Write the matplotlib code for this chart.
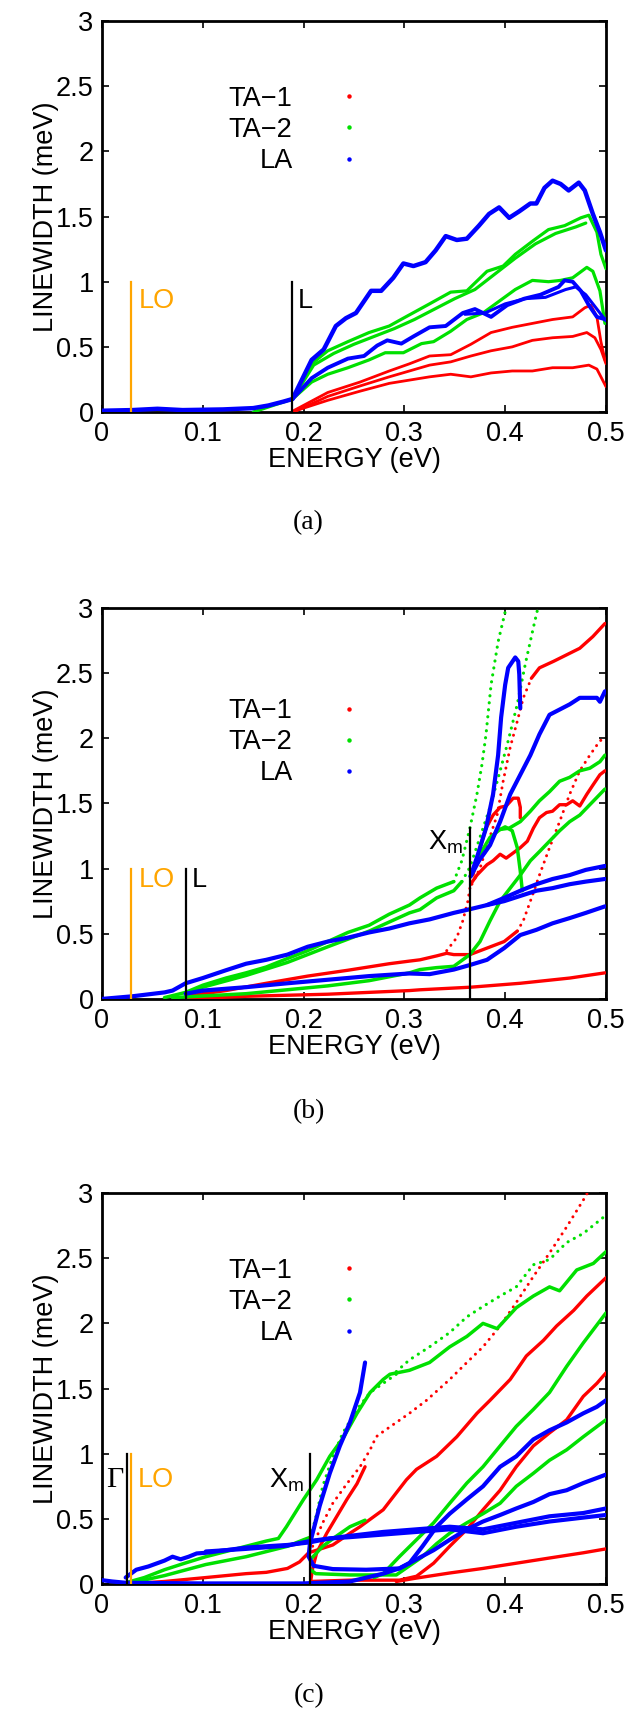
import matplotlib
matplotlib.use('Agg')
import matplotlib.pyplot as plt
from matplotlib.lines import Line2D
from matplotlib.ticker import FormatStrFormatter

plt.rcParams['font.family'] = ['Liberation Sans', 'DejaVu Sans']
plt.rcParams['mathtext.fontset'] = 'custom'
plt.rcParams['mathtext.rm'] = 'Liberation Sans'

# ---------------- panel (a) ----------------
a_la1_e = [0, 0.03, 0.055, 0.08, 0.12, 0.15, 0.165, 0.18, 0.189, 0.208, 0.22, 0.232, 0.242, 0.252, 0.267,
           0.277, 0.289, 0.299, 0.309, 0.321, 0.331, 0.341, 0.352, 0.362, 0.374, 0.384, 0.394, 0.404, 0.414,
           0.425, 0.431, 0.439, 0.447, 0.455, 0.463, 0.473, 0.479, 0.487, 0.494, 0.5]
a_la1_w = [0.01, 0.015, 0.025, 0.015, 0.02, 0.03, 0.05, 0.08, 0.1, 0.40, 0.48, 0.66, 0.72, 0.76, 0.93,
           0.93, 1.03, 1.14, 1.12, 1.15, 1.24, 1.35, 1.32, 1.33, 1.43, 1.52, 1.57, 1.49, 1.54,
           1.60, 1.60, 1.72, 1.775, 1.75, 1.70, 1.76, 1.70, 1.52, 1.38, 1.24]
a_la2_e = [0.189, 0.208, 0.224, 0.244, 0.26, 0.273, 0.283, 0.297, 0.309, 0.325, 0.341, 0.358, 0.37, 0.386,
           0.402, 0.419, 0.435, 0.453, 0.459, 0.467, 0.475, 0.483, 0.491, 0.5]
a_la2_w = [0.1, 0.26, 0.34, 0.41, 0.43, 0.51, 0.55, 0.525, 0.58, 0.65, 0.66, 0.76, 0.79, 0.73,
           0.82, 0.87, 0.90, 0.96, 1.01, 1.0, 0.93, 0.82, 0.73, 0.71]
a_la3_e = [0.36, 0.38, 0.40, 0.42, 0.44, 0.46, 0.47, 0.48, 0.49, 0.5]
a_la3_w = [0.75, 0.76, 0.83, 0.87, 0.88, 0.94, 0.96, 0.90, 0.80, 0.70]
a_ta2_1_e = [0.189, 0.208, 0.224, 0.244, 0.265, 0.285, 0.299, 0.325, 0.346, 0.362, 0.382, 0.398, 0.41,
             0.427, 0.443, 0.459, 0.475, 0.483, 0.491, 0.495, 0.5]
a_ta2_1_w = [0.1, 0.37, 0.47, 0.54, 0.61, 0.66, 0.72, 0.83, 0.92, 0.93, 1.08, 1.12, 1.21,
             1.31, 1.40, 1.43, 1.49, 1.51, 1.38, 1.21, 1.10]
a_ta2_2_e = [0.189, 0.21, 0.23, 0.25, 0.27, 0.29, 0.31, 0.33, 0.35, 0.37, 0.39, 0.41, 0.43, 0.45, 0.47, 0.48]
a_ta2_2_w = [0.1, 0.36, 0.45, 0.52, 0.58, 0.64, 0.71, 0.79, 0.87, 0.94, 1.06, 1.18, 1.29, 1.37, 1.42, 1.45]
a_ta2_3_e = [0.15, 0.189, 0.208, 0.224, 0.244, 0.265, 0.281, 0.299, 0.317, 0.329, 0.346, 0.362, 0.378, 0.394,
             0.41, 0.427, 0.443, 0.455, 0.467, 0.481, 0.487, 0.494, 0.499]
a_ta2_3_w = [0.0, 0.1, 0.23, 0.29, 0.34, 0.40, 0.455, 0.455, 0.525, 0.54, 0.62, 0.71, 0.76, 0.85,
             0.94, 1.01, 1.0, 1.01, 1.03, 1.11, 1.08, 0.93, 0.68]
a_ta1_1_e = [0.19, 0.224, 0.256, 0.285, 0.305, 0.325, 0.346, 0.366, 0.386, 0.407, 0.427, 0.447, 0.467,
             0.479, 0.485, 0.491, 0.495, 0.499]
a_ta1_1_w = [0.01, 0.15, 0.23, 0.315, 0.37, 0.43, 0.44, 0.52, 0.61, 0.65, 0.68, 0.71, 0.73,
             0.80, 0.82, 0.73, 0.54, 0.40]
a_ta1_2_e = [0.19, 0.224, 0.256, 0.285, 0.305, 0.325, 0.346, 0.366, 0.386, 0.407, 0.427, 0.447, 0.467,
             0.481, 0.489, 0.495, 0.5]
a_ta1_2_w = [0.0, 0.12, 0.20, 0.27, 0.315, 0.36, 0.385, 0.43, 0.47, 0.50, 0.55, 0.57, 0.58,
             0.61, 0.57, 0.48, 0.37]
a_ta1_3_e = [0.192, 0.224, 0.256, 0.285, 0.305, 0.325, 0.346, 0.366, 0.386, 0.407, 0.427, 0.447, 0.467,
             0.483, 0.491, 0.5]
a_ta1_3_w = [0.01, 0.09, 0.16, 0.22, 0.245, 0.27, 0.29, 0.27, 0.30, 0.315, 0.315, 0.34, 0.34,
             0.36, 0.33, 0.195]

# ---------------- panel (b) ----------------
b_la1_e = [0, 0.03, 0.062, 0.07, 0.083, 0.1, 0.123, 0.143, 0.163, 0.184, 0.204, 0.224, 0.244, 0.265, 0.285,
           0.305, 0.325, 0.349, 0.366, 0.382, 0.399, 0.415, 0.431, 0.447, 0.464, 0.48, 0.499]
b_la1_w = [0, 0.02, 0.05, 0.064, 0.12, 0.16, 0.22, 0.27, 0.30, 0.34, 0.40, 0.44, 0.47, 0.51, 0.54,
           0.58, 0.61, 0.66, 0.69, 0.72, 0.775, 0.83, 0.88, 0.92, 0.95, 0.99, 1.02]
b_la2_e = [0.382, 0.399, 0.415, 0.431, 0.447, 0.464, 0.48, 0.499]
b_la2_w = [0.72, 0.75, 0.79, 0.83, 0.85, 0.88, 0.90, 0.92]
b_la3_e = [0.083, 0.1, 0.143, 0.184, 0.224, 0.265, 0.305, 0.325, 0.349, 0.365, 0.382, 0.399, 0.415,
           0.431, 0.447, 0.464, 0.48, 0.499]
b_la3_w = [0.04, 0.064, 0.09, 0.12, 0.147, 0.175, 0.195, 0.19, 0.225, 0.26, 0.30, 0.39, 0.49,
           0.53, 0.58, 0.62, 0.66, 0.71]
b_la4_e = [0.3657, 0.373, 0.381, 0.388, 0.393, 0.396, 0.400, 0.403, 0.410, 0.413, 0.414, 0.415]
b_la4_w = [0.94, 1.11, 1.31, 1.57, 1.87, 2.16, 2.41, 2.54, 2.62, 2.59, 2.49, 2.23]
b_la5_e = [0.3657, 0.374, 0.385, 0.395, 0.405, 0.415, 0.425, 0.434, 0.444, 0.454, 0.464, 0.474, 0.484,
           0.491, 0.494, 0.499]
b_la5_w = [0.94, 1.06, 1.18, 1.36, 1.57, 1.72, 1.87, 2.03, 2.18, 2.22, 2.26, 2.31, 2.31,
           2.31, 2.28, 2.36]
b_ta2_1_e = [0.062, 0.083, 0.1, 0.123, 0.143, 0.163, 0.184, 0.204, 0.224, 0.244, 0.265, 0.285, 0.305,
             0.3155, 0.332, 0.349]
b_ta2_1_w = [0.01, 0.05, 0.105, 0.16, 0.20, 0.245, 0.31, 0.37, 0.44, 0.51, 0.565, 0.65, 0.72,
             0.775, 0.85, 0.90]
b_ta2_1d_e = [0.349, 0.357, 0.365, 0.372, 0.377, 0.381, 0.386, 0.393, 0.400, 0.402]
b_ta2_1d_w = [0.90, 1.06, 1.31, 1.57, 1.80, 2.03, 2.41, 2.74, 2.97, 3.05]
b_ta2_2_e = [0.083, 0.1, 0.143, 0.184, 0.224, 0.265, 0.305, 0.3155, 0.332, 0.349, 0.357]
b_ta2_2_w = [0.04, 0.09, 0.18, 0.28, 0.40, 0.52, 0.66, 0.685, 0.775, 0.83, 0.90]
b_ta2_2d_e = [0.357, 0.365, 0.375, 0.385, 0.395, 0.403, 0.412, 0.420, 0.428, 0.434]
b_ta2_2d_w = [0.90, 1.01, 1.24, 1.47, 1.75, 1.98, 2.26, 2.57, 2.85, 3.05]
b_ta2_3_e = [0.366, 0.375, 0.385, 0.395, 0.4, 0.407, 0.412, 0.415, 0.417]
b_ta2_3_w = [0.95, 1.11, 1.24, 1.30, 1.32, 1.29, 1.16, 0.98, 0.83]
b_ta2_4_e = [0.395, 0.404, 0.415, 0.425, 0.434, 0.444, 0.454, 0.464, 0.474, 0.484, 0.494, 0.499]
b_ta2_4_w = [1.30, 1.31, 1.36, 1.44, 1.52, 1.59, 1.67, 1.70, 1.75, 1.77, 1.82, 1.87]
b_ta2_5_e = [0.07, 0.143, 0.224, 0.265, 0.305, 0.3155, 0.332, 0.349, 0.365, 0.375, 0.385, 0.395, 0.405,
             0.415, 0.425, 0.434, 0.444, 0.454, 0.464, 0.474, 0.484, 0.494, 0.499]
b_ta2_5_w = [0.01, 0.04, 0.10, 0.14, 0.20, 0.225, 0.24, 0.25, 0.34, 0.44, 0.60, 0.75, 0.85,
             0.95, 1.06, 1.13, 1.21, 1.29, 1.36, 1.41, 1.49, 1.57, 1.61]
b_ta1_1_e = [0.083, 0.123, 0.163, 0.204, 0.244, 0.285, 0.305, 0.3155, 0.332, 0.342]
b_ta1_1_w = [0.02, 0.064, 0.12, 0.175, 0.22, 0.27, 0.29, 0.30, 0.33, 0.35]
b_ta1_1d_e = [0.342, 0.352, 0.358, 0.363, 0.365]
b_ta1_1d_w = [0.37, 0.47, 0.60, 0.75, 0.85]
b_ta1_2_e = [0.342, 0.349, 0.365, 0.382, 0.399, 0.412]
b_ta1_2_w = [0.35, 0.34, 0.34, 0.39, 0.44, 0.52]
b_ta1_2d_e = [0.412, 0.418, 0.425, 0.434, 0.444, 0.454, 0.464, 0.474, 0.484, 0.494, 0.499]
b_ta1_2d_w = [0.52, 0.60, 0.75, 0.95, 1.16, 1.36, 1.57, 1.75, 1.87, 1.98, 2.0]
b_ta1_3d_e = [0.367, 0.375, 0.383, 0.392, 0.398, 0.405, 0.412, 0.418, 0.426]
b_ta1_3d_w = [0.88, 1.0, 1.2, 1.41, 1.67, 1.93, 2.13, 2.31, 2.46]
b_ta1_3_e = [0.426, 0.434, 0.448, 0.461, 0.474, 0.487, 0.499]
b_ta1_3_w = [2.46, 2.54, 2.59, 2.64, 2.69, 2.78, 2.88]
b_ta1_4_e = [0.3657, 0.372, 0.382, 0.388, 0.395, 0.401, 0.408, 0.415, 0.422, 0.428, 0.434, 0.441, 0.447,
             0.454, 0.461, 0.467, 0.474, 0.481, 0.487, 0.494, 0.499]
b_ta1_4_w = [0.88, 0.95, 1.03, 1.06, 1.11, 1.08, 1.12, 1.16, 1.21, 1.31, 1.39, 1.43, 1.44,
             1.49, 1.49, 1.52, 1.48, 1.57, 1.64, 1.72, 1.75]
b_ta1_5_e = [0.368, 0.375, 0.381, 0.388, 0.395, 0.401, 0.408, 0.413, 0.415, 0.415]
b_ta1_5_w = [0.95, 1.16, 1.31, 1.41, 1.47, 1.48, 1.54, 1.54, 1.47, 1.39]
b_ta1_6_e = [0.083, 0.143, 0.224, 0.305, 0.3155, 0.366, 0.415, 0.464, 0.499]
b_ta1_6_w = [0.0, 0.02, 0.036, 0.064, 0.07, 0.09, 0.12, 0.16, 0.20]

# ---------------- panel (c) ----------------
c_la1_e = [0.0235, 0.034, 0.046, 0.062, 0.07, 0.078, 0.086, 0.094, 0.103, 0.123, 0.143, 0.163, 0.184,
           0.206, 0.226, 0.246, 0.279, 0.312, 0.345, 0.378, 0.411, 0.444, 0.4775, 0.5]
c_la1_w = [0.05, 0.11, 0.135, 0.18, 0.21, 0.19, 0.21, 0.235, 0.24, 0.26, 0.28, 0.29, 0.30,
           0.32, 0.35, 0.36, 0.38, 0.40, 0.42, 0.39, 0.44, 0.48, 0.51, 0.53]
c_la2_e = [0.103, 0.143, 0.184, 0.206, 0.246, 0.279, 0.312, 0.345, 0.378, 0.411, 0.444, 0.4775, 0.5]
c_la2_w = [0.25, 0.27, 0.295, 0.33, 0.37, 0.40, 0.42, 0.44, 0.42, 0.47, 0.52, 0.545, 0.58]
c_la3_e = [0, 0.01, 0.0235, 0.1, 0.2, 0.246, 0.279, 0.295, 0.312, 0.329, 0.345, 0.362, 0.378, 0.395,
           0.411, 0.428, 0.444, 0.461, 0.4775, 0.5]
c_la3_w = [0.03, 0.02, 0.01, 0.005, 0.005, 0.02, 0.08, 0.12, 0.19, 0.26, 0.34, 0.42, 0.48, 0.53,
           0.58, 0.63, 0.69, 0.72, 0.775, 0.84]
c_la4_e = [0.2063, 0.205, 0.210, 0.229, 0.262, 0.295, 0.305, 0.318, 0.332, 0.345, 0.362, 0.378, 0.395,
           0.411, 0.428, 0.444, 0.461, 0.4775, 0.491, 0.5]
c_la4_w = [0.31, 0.21, 0.14, 0.115, 0.11, 0.12, 0.16, 0.29, 0.44, 0.54, 0.65, 0.75, 0.90,
           0.98, 1.11, 1.18, 1.24, 1.31, 1.36, 1.41]
c_la5_e = [0.2063, 0.216, 0.226, 0.236, 0.246, 0.256, 0.261]
c_la5_w = [0.31, 0.60, 0.85, 1.06, 1.24, 1.47, 1.70]
c_ta2_1_e = [0.0235, 0.042, 0.062, 0.082, 0.103, 0.123, 0.143, 0.163, 0.175, 0.183, 0.2, 0.213, 0.226,
             0.24, 0.253, 0.266, 0.279, 0.2857, 0.305, 0.325, 0.345, 0.362, 0.378, 0.392, 0.411, 0.428,
             0.444, 0.454, 0.471, 0.4875, 0.5]
c_ta2_1_w = [0.01, 0.05, 0.11, 0.16, 0.21, 0.25, 0.29, 0.33, 0.35, 0.44, 0.65, 0.80, 0.98,
             1.13, 1.31, 1.47, 1.57, 1.61, 1.64, 1.70, 1.82, 1.90, 2.0, 1.96, 2.12, 2.21,
             2.28, 2.25, 2.41, 2.46, 2.55]
c_ta2_2_e = [0.0235, 0.062, 0.103, 0.143, 0.184, 0.2, 0.207]
c_ta2_2_w = [0.0, 0.065, 0.15, 0.21, 0.29, 0.34, 0.36]
c_ta2_2d_e = [0.207, 0.213, 0.219, 0.229, 0.239, 0.253, 0.266, 0.279, 0.292]
c_ta2_2d_w = [0.36, 0.54, 0.75, 0.98, 1.16, 1.34, 1.47, 1.54, 1.61]
c_ta2_3d_e = [0.292, 0.305, 0.325, 0.345, 0.362, 0.378, 0.395, 0.411, 0.428, 0.444, 0.461, 0.4775, 0.5]
c_ta2_3d_w = [1.63, 1.72, 1.82, 1.93, 2.05, 2.13, 2.21, 2.28, 2.45, 2.49, 2.62, 2.69, 2.83]
c_ta2_4_e = [0.207, 0.219, 0.233, 0.246, 0.261]
c_ta2_4_w = [0.19, 0.29, 0.37, 0.44, 0.49]
c_ta2_5_e = [0.207, 0.212, 0.246, 0.292, 0.305, 0.318, 0.332, 0.345, 0.362, 0.378, 0.395, 0.411, 0.428,
             0.444, 0.461, 0.4775, 0.5]
c_ta2_5_w = [0.11, 0.08, 0.07, 0.07, 0.14, 0.21, 0.31, 0.39, 0.47, 0.54, 0.62, 0.75, 0.85,
             0.95, 1.03, 1.13, 1.26]
c_ta2_6_e = [0.27, 0.279, 0.295, 0.312, 0.329, 0.345, 0.362, 0.378, 0.395, 0.411, 0.428, 0.444, 0.461,
             0.4775, 0.5]
c_ta2_6_w = [0.05, 0.08, 0.21, 0.34, 0.47, 0.62, 0.775, 0.90, 1.06, 1.21, 1.34, 1.47, 1.67,
             1.85, 2.08]
c_ta1_1_e = [0.0235, 0.062, 0.103, 0.143, 0.163, 0.184, 0.196, 0.205, 0.229, 0.246, 0.256, 0.279, 0.302,
             0.312, 0.332, 0.352, 0.372, 0.385, 0.405, 0.421, 0.438, 0.451, 0.468, 0.481, 0.5]
c_ta1_1_w = [0.0, 0.02, 0.05, 0.08, 0.09, 0.12, 0.17, 0.24, 0.30, 0.39, 0.44, 0.57, 0.80,
             0.88, 0.98, 1.13, 1.31, 1.41, 1.57, 1.75, 1.87, 1.98, 2.10, 2.21, 2.35]
c_ta1_2_e = [0.207, 0.209, 0.213, 0.223, 0.233, 0.243, 0.253, 0.261]
c_ta1_2_w = [0.02, 0.12, 0.24, 0.39, 0.52, 0.65, 0.77, 0.90]
c_ta1_3d_e = [0.209, 0.219, 0.229, 0.243, 0.256, 0.266, 0.272, 0.279, 0.292, 0.305, 0.322, 0.345, 0.362,
              0.378, 0.395, 0.411, 0.428, 0.444, 0.461, 0.481, 0.483]
c_ta1_3d_w = [0.29, 0.47, 0.62, 0.77, 0.90, 1.03, 1.13, 1.17, 1.24, 1.31, 1.41, 1.57, 1.70,
              1.82, 1.98, 2.16, 2.36, 2.54, 2.74, 2.99, 3.05]
c_ta1_4_e = [0.207, 0.246, 0.295, 0.312, 0.329, 0.345, 0.362, 0.378, 0.395, 0.411, 0.428, 0.444, 0.461,
             0.4775, 0.491, 0.5]
c_ta1_4_w = [0.02, 0.03, 0.03, 0.06, 0.16, 0.29, 0.42, 0.57, 0.72, 0.90, 1.06, 1.16, 1.26,
             1.44, 1.54, 1.62]
c_ta1_5_e = [0.292, 0.312, 0.345, 0.378, 0.411, 0.444, 0.4775, 0.5]
c_ta1_5_w = [0.02, 0.046, 0.085, 0.12, 0.16, 0.20, 0.24, 0.27]

# marker lines (energy, height)
lo_e = 0.029
a_l_e = 0.189
b_l_e = 0.083
b_xm_e, b_xm_h = 0.3655, 1.31
c_g_e = 0.0245
c_xm_e = 0.2063

xticks = [0, 0.1, 0.2, 0.3, 0.4, 0.5]
yticks = [0, 0.5, 1, 1.5, 2, 2.5, 3]
legend_labels = ['TA\u22121', 'TA\u22122', 'LA']

RED, GREEN, BLUE, ORANGE = '#ff0000', '#00e000', '#0000ff', '#ffa500'
FS = 19.5

fig = plt.figure(figsize=(6.43, 17.09), dpi=100)
left, width, height = 0.1586, 0.7838, 0.2288
axa = fig.add_axes([left, 0.7589, width, height])
axb = fig.add_axes([left, 0.4155, width, height])
axc = fig.add_axes([left, 0.0731, width, height])


def curve(ax, e, w, color, lw, dotted=False):
    if dotted:
        ax.plot(e, w, color=color, lw=lw * 0.9, ls=(0, (0.05, 2.2)),
                dash_capstyle='round', zorder=3)
    else:
        ax.plot(e, w, color=color, lw=lw, solid_capstyle='round',
                solid_joinstyle='round', zorder=3)


def vline(ax, x, h, color='black'):
    ax.plot([x, x], [0, h], color=color, lw=1.6, zorder=5)


def setup(ax, leg_y):
    ax.set_xlim(0, 0.5)
    ax.set_ylim(0, 3)
    ax.set_xticks(xticks)
    ax.set_yticks(yticks)
    ax.xaxis.set_major_formatter(FormatStrFormatter('%g'))
    ax.yaxis.set_major_formatter(FormatStrFormatter('%g'))
    ax.tick_params(direction='in', top=True, right=True, length=5, width=1.2, labelsize=FS)
    ax.tick_params(axis='x', pad=6.5)
    ax.tick_params(axis='y', pad=6)
    for s in ax.spines.values():
        s.set_linewidth(2)
    ax.set_xlabel('ENERGY (eV)', fontsize=FS, labelpad=0)
    ax.set_ylabel('LINEWIDTH (meV)', fontsize=FS, labelpad=-2.5)
    handles = [Line2D([], [], ls='none', marker='o', ms=3.2, color=c, mec='none')
               for c in (RED, GREEN, BLUE)]
    ax.legend(handles, legend_labels, loc='center right', bbox_to_anchor=(0.253, leg_y),
              bbox_transform=ax.transData, frameon=False, markerfirst=False,
              handlelength=0.6, handletextpad=1.78, borderpad=0, borderaxespad=0,
              labelspacing=0.19, fontsize=FS)


# panel (a)
ax = axa
for e, w in [(a_ta1_1_e, a_ta1_1_w), (a_ta1_2_e, a_ta1_2_w), (a_ta1_3_e, a_ta1_3_w)]:
    curve(ax, e, w, RED, 2.0)
for e, w in [(a_ta2_1_e, a_ta2_1_w), (a_ta2_2_e, a_ta2_2_w), (a_ta2_3_e, a_ta2_3_w)]:
    curve(ax, e, w, GREEN, 2.3)
curve(ax, a_la1_e, a_la1_w, BLUE, 3.2)
curve(ax, a_la2_e, a_la2_w, BLUE, 2.8)
curve(ax, a_la3_e, a_la3_w, BLUE, 2.2)
vline(ax, lo_e, 1, ORANGE)
vline(ax, a_l_e, 1)
ax.text(0.036, 0.85, 'LO', color=ORANGE, fontsize=FS, va='center', ha='left')
ax.text(0.194, 0.85, 'L', fontsize=FS, va='center', ha='left')
setup(ax, 2.165)

# panel (b)
ax = axb
for e, w in [(b_ta1_1_e, b_ta1_1_w), (b_ta1_2_e, b_ta1_2_w), (b_ta1_3_e, b_ta1_3_w),
             (b_ta1_4_e, b_ta1_4_w), (b_ta1_5_e, b_ta1_5_w), (b_ta1_6_e, b_ta1_6_w)]:
    curve(ax, e, w, RED, 2.4)
for e, w in [(b_ta1_1d_e, b_ta1_1d_w), (b_ta1_2d_e, b_ta1_2d_w), (b_ta1_3d_e, b_ta1_3d_w)]:
    curve(ax, e, w, RED, 2.4, dotted=True)
for e, w in [(b_ta2_1_e, b_ta2_1_w), (b_ta2_2_e, b_ta2_2_w), (b_ta2_3_e, b_ta2_3_w),
             (b_ta2_4_e, b_ta2_4_w), (b_ta2_5_e, b_ta2_5_w)]:
    curve(ax, e, w, GREEN, 2.5)
for e, w in [(b_ta2_1d_e, b_ta2_1d_w), (b_ta2_2d_e, b_ta2_2d_w)]:
    curve(ax, e, w, GREEN, 2.5, dotted=True)
for e, w in [(b_la1_e, b_la1_w), (b_la2_e, b_la2_w), (b_la3_e, b_la3_w),
             (b_la4_e, b_la4_w), (b_la5_e, b_la5_w)]:
    curve(ax, e, w, BLUE, 3.0)
vline(ax, lo_e, 1, ORANGE)
vline(ax, b_l_e, 1)
vline(ax, b_xm_e, b_xm_h)
ax.text(0.036, 0.91, 'LO', color=ORANGE, fontsize=FS, va='center', ha='left')
ax.text(0.089, 0.91, 'L', fontsize=FS, va='center', ha='left')
ax.text(0.358, 1.15, r'$\mathrm{X}_\mathrm{m}$', fontsize=FS, va='baseline', ha='right')
setup(ax, 1.97)

# panel (c)
ax = axc
for e, w in [(c_ta1_1_e, c_ta1_1_w), (c_ta1_2_e, c_ta1_2_w), (c_ta1_4_e, c_ta1_4_w),
             (c_ta1_5_e, c_ta1_5_w)]:
    curve(ax, e, w, RED, 2.4)
curve(ax, c_ta1_3d_e, c_ta1_3d_w, RED, 2.4, dotted=True)
for e, w in [(c_ta2_1_e, c_ta2_1_w), (c_ta2_2_e, c_ta2_2_w), (c_ta2_4_e, c_ta2_4_w),
             (c_ta2_5_e, c_ta2_5_w), (c_ta2_6_e, c_ta2_6_w)]:
    curve(ax, e, w, GREEN, 2.5)
for e, w in [(c_ta2_2d_e, c_ta2_2d_w), (c_ta2_3d_e, c_ta2_3d_w)]:
    curve(ax, e, w, GREEN, 2.5, dotted=True)
for e, w in [(c_la1_e, c_la1_w), (c_la2_e, c_la2_w), (c_la3_e, c_la3_w),
             (c_la4_e, c_la4_w), (c_la5_e, c_la5_w)]:
    curve(ax, e, w, BLUE, 3.0)
vline(ax, c_g_e, 1)
vline(ax, lo_e, 1, ORANGE)
vline(ax, c_xm_e, 1)
ax.text(0.035, 0.80, 'LO', color=ORANGE, fontsize=FS, va='center', ha='left')
ax.text(0.0215, 0.80, '\u0393', fontsize=FS + 2, va='center', ha='right', family='Liberation Serif')
ax.text(0.200, 0.74, r'$\mathrm{X}_\mathrm{m}$', fontsize=FS, va='baseline', ha='right')
setup(ax, 2.165)

for y, lab in [(0.694, '(a)'), (0.3493, '(b)'), (0.0076, '(c)')]:
    fig.text(0.48, y, lab, ha='center', va='center', fontsize=20, family='Liberation Serif')

fig.savefig('out.png', dpi=100)
